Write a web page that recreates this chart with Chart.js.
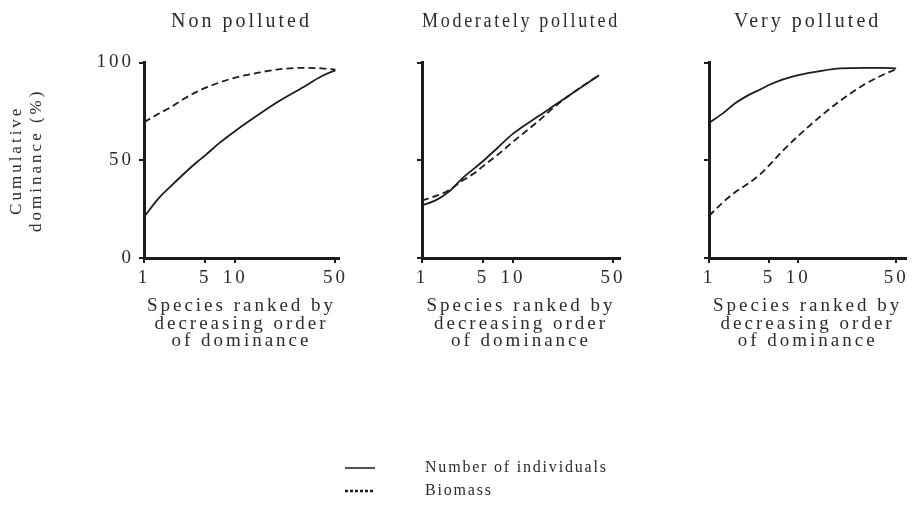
<!DOCTYPE html>
<html>
<head>
<meta charset="utf-8">
<script src="https://cdn.jsdelivr.net/npm/chart.js@4.4.1/dist/chart.umd.min.js"></script>
<style>
  html, body { margin: 0; padding: 0; background: #fff; }
  #page { position: relative; width: 913px; height: 511px; overflow: hidden; }
  .box { position: absolute; }
</style>
</head>
<body>
<div id="page">
  <div class="box" style="left:0;top:0;width:360px;height:400px"><canvas id="c1"></canvas></div>
  <div class="box" style="left:345px;top:0;width:290px;height:400px"><canvas id="c2"></canvas></div>
  <div class="box" style="left:630px;top:0;width:283px;height:400px"><canvas id="c3"></canvas></div>
  <div class="box" style="left:338px;top:453px;width:600px;height:58px"><canvas id="cLegend"></canvas></div>
</div>
<script>
// values (cumulative %, by species rank)
const panelTitles = ["Non polluted", "Moderately polluted", "Very polluted"];
const seriesLabels = ["Number of individuals", "Biomass"];
const xAxisTitle = ["Species ranked by", "decreasing order", "of dominance"];
const yAxisTitle = ["Cumulative", "dominance (%)"];
const rankTicks = [1, 5, 10, 50];
const percentTicks = [0, 50, 100];

const ranks = [1, 1.5, 2, 3, 4, 5, 7, 10, 15, 20, 30, 40, 50];
const nonIndividuals = [21, 31, 36.5, 44, 49, 52.5, 59, 65, 74, 80, 87.5, 93, 96];
const nonBiomass = [69.5, 74, 77, 82, 85, 87, 89.8, 92.3, 95, 96.5, 97.3, 97, 96.4];
const modIndividuals = [26.8, 30, 33.7, 41.4, 46, 49.6, 56.4, 63.6, 72.5, 78.6, 87.4, 93.5, null];
const modBiomass = [29.4, 32, 34.5, 40, 43.5, 47, 52.8, 59.5, 70, 78, 87.5, 93.5, null];
const veryIndividuals = [69, 74.5, 79, 83.7, 86.3, 88.5, 91.4, 93.6, 95.9, 97, 97.3, 97.3, 97];
const veryBiomass = [21.5, 29, 33.5, 38.7, 43, 47.3, 55, 62.5, 73.5, 80.5, 89, 93.6, 96.6];

const ink = "#1c1c1c";
const textColor = "#2b2b2b";

Chart.defaults.font.family = '"Liberation Serif", "Times New Roman", serif';
Chart.defaults.font.size = 19;
Chart.defaults.color = textColor;

// the rank axis in the figure is a hand-drawn log-like axis:
// each tick sits at a fixed fraction of the axis, log-interpolated between ticks
const RANK_STOPS = [[1, 0], [5, 0.32], [10, 0.477], [50, 1]];

class RankScale extends Chart.LinearScale {
  static id = "rank";
  warp(v) {
    const s = RANK_STOPS;
    let i = 1;
    while (i < s.length - 1 && v > s[i][0]) i++;
    const [a, fa] = s[i - 1];
    const [b, fb] = s[i];
    return fa + (fb - fa) * Math.log(v / a) / Math.log(b / a);
  }
  buildTicks() {
    return rankTicks.map(v => ({ value: v }));
  }
  getPixelForValue(v) {
    if (v === null || v === undefined || isNaN(v)) return NaN;
    const lo = this.warp(this.min), hi = this.warp(this.max);
    return this.getPixelForDecimal((this.warp(v) - lo) / (hi - lo));
  }
}
Chart.register(RankScale);

// the printed figure uses widely spaced letters
const spacing = {
  id: "spacing",
  beforeUpdate(chart, args, opts) { chart.ctx.letterSpacing = opts.gap; },
  beforeDraw(chart, args, opts) { chart.ctx.letterSpacing = opts.gap; },
  defaults: { gap: "0px" }
};

function points(values) {
  return ranks.map((r, i) => ({ x: r, y: values[i] }));
}

function makePanel(id, title, individuals, biomass, cfg) {
  new Chart(document.getElementById(id), {
    type: "line",
    data: {
      datasets: [
        { label: seriesLabels[0], data: points(individuals), borderColor: ink, borderWidth: 1.8,
          pointRadius: 0, cubicInterpolationMode: "monotone", clip: false },
        { label: seriesLabels[1], data: points(biomass), borderColor: ink, borderWidth: 1.8,
          borderDash: [7, 4], pointRadius: 0, cubicInterpolationMode: "monotone", clip: false }
      ]
    },
    options: {
      animation: false,
      events: [],
      responsive: true,
      maintainAspectRatio: false,
      layout: { padding: { left: 0, right: cfg.padRight, top: 0, bottom: 0 } },
      scales: {
        x: {
          type: "rank",
          min: 1,
          max: cfg.xMax,
          afterFit: s => { s.height = 142; },
          border: { display: true, color: ink, width: 3 },
          grid: { display: true, drawOnChartArea: false, drawTicks: true, tickLength: 5, color: ink, lineWidth: 2 },
          ticks: { padding: 4, maxRotation: 0, autoSkip: false, color: textColor },
          title: { display: true, text: xAxisTitle, font: { size: 19, lineHeight: 0.921 }, padding: { top: 0, bottom: 50 } }
        },
        y: {
          type: "linear",
          min: 0,
          max: 100,
          afterFit: s => { s.width = cfg.yWidth; },
          afterBuildTicks: s => { s.ticks = percentTicks.map(v => ({ value: v })); },
          border: { display: true, color: ink, width: 3 },
          grid: { display: true, drawOnChartArea: false, drawTicks: true, tickLength: 5, color: ink, lineWidth: 2 },
          ticks: { display: cfg.yLabels, padding: 5, color: textColor },
          title: { display: cfg.yLabels, text: yAxisTitle, font: { size: 17, lineHeight: 1.176 }, padding: { top: 7, bottom: 0 } }
        }
      },
      plugins: {
        legend: { display: false },
        tooltip: { enabled: false },
        spacing: { gap: "3px" },
        title: { display: true, text: title, fullSize: false, color: textColor,
          font: { size: 20, weight: "normal", lineHeight: 1.2 }, padding: { top: 10, bottom: 28.5 } }
      }
    },
    plugins: [spacing]
  });
}

makePanel("c1", panelTitles[0], nonIndividuals, nonBiomass, { yWidth: 144, padRight: 21, xMax: 53, yLabels: true });
makePanel("c2", panelTitles[1], modIndividuals, modBiomass, { yWidth: 77, padRight: 15, xMax: 56, yLabels: false });
makePanel("c3", panelTitles[2], veryIndividuals, veryBiomass, { yWidth: 79, padRight: 3, xMax: 59, yLabels: false });

// legend: line sample on the left part of a wider icon so the text sits further right
function legendIcon(dash, width) {
  const c = document.createElement("canvas");
  c.width = 72;
  c.height = 8;
  const g = c.getContext("2d");
  g.strokeStyle = ink;
  g.lineWidth = width;
  g.setLineDash(dash);
  g.beginPath();
  g.moveTo(0, 4);
  g.lineTo(30, 4);
  g.stroke();
  return c;
}
const legendIcons = [legendIcon([], 1.5), legendIcon([3, 2], 2.5)];

new Chart(document.getElementById("cLegend"), {
  type: "line",
  data: { datasets: seriesLabels.map(l => ({ label: l, data: [] })) },
  options: {
    animation: false,
    events: [],
    responsive: true,
    maintainAspectRatio: false,
    scales: { x: { display: false }, y: { display: false } },
    plugins: {
      tooltip: { enabled: false },
      spacing: { gap: "1.8px" },
      legend: {
        position: "left",
        align: "start",
        labels: {
          usePointStyle: true,
          pointStyleWidth: 72,
          padding: 7,
          color: textColor,
          font: { size: 16 },
          generateLabels: chart => chart.data.datasets.map((ds, i) => ({
            text: ds.label, pointStyle: legendIcons[i], lineWidth: 0,
            fontColor: textColor, datasetIndex: i, hidden: false
          }))
        }
      }
    }
  },
  plugins: [spacing]
});
</script>
</body>
</html>
